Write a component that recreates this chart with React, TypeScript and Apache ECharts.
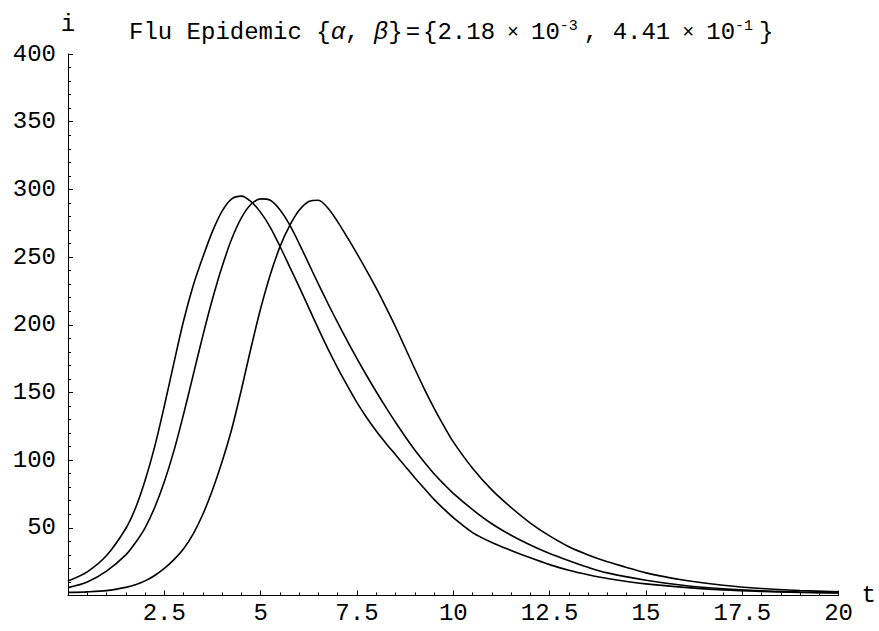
import React, { useEffect, useRef } from "react";
import * as echarts from "echarts";

const tValues = [0, 0.5, 1, 1.5, 1.75, 2, 2.25, 2.5, 2.75, 3, 3.25, 3.5, 3.75, 4, 4.25, 4.5, 4.75, 5, 5.25, 5.5, 5.75, 6, 6.25, 6.5, 6.75, 7, 7.25, 7.5, 7.75, 8, 8.25, 8.5, 8.75, 9, 9.25, 9.5, 9.75, 10, 10.5, 11, 11.5, 12, 12.5, 13, 13.5, 14, 15, 16, 17, 18, 19, 20];

const curveA = [10.7, 17.5, 29.5, 49.5, 64.5, 85, 110, 140, 172, 203, 229, 250, 269, 284, 293, 295, 291, 283, 272, 258, 243, 228, 212.5, 197, 182, 168, 155, 142.5, 131.5, 121.5, 112.5, 104, 95.5, 87, 79, 71, 64, 57.5, 46.5, 39.2, 33.3, 27.8, 22.8, 18.6, 15.3, 12.6, 8.6, 6.0, 4.1, 3.0, 2.3, 1.8];
const curveB = [5.8, 10, 18, 30, 39, 50, 65, 84, 107, 134, 163, 192, 219, 243, 263.5, 279, 289, 293, 292, 285, 274, 260, 245, 230, 215.5, 201.5, 188, 175, 162.5, 150.5, 139, 128, 117.5, 107.5, 98.5, 90, 82.5, 75.5, 63.5, 53, 44.5, 37.3, 31, 25.7, 20.8, 16.7, 11.3, 7.4, 4.9, 3.4, 2.6, 2.0];
const curveC = [2.3, 2.7, 3.6, 6, 8, 10.8, 14.8, 20, 26.5, 34.5, 45.5, 60, 78, 99, 123, 152, 183, 212, 237, 257.5, 273, 284.5, 291, 292, 286, 276, 264.5, 252.5, 240, 227, 213, 198.5, 183, 167.5, 152.5, 138.5, 125.5, 113.5, 94, 78, 65, 53.5, 44, 36, 30, 25, 16.7, 11.3, 7.6, 5.2, 3.7, 2.7];

const xTickInterval = 2.5;
const yTickInterval = 50;

const titleText = "Flu Epidemic {{g|α}, {g|β}}{eq|=}{2.18{x|×}10{sup|-3}, 4.41{x|×}10{sup|-1}}";

function pairs(ys: number[]) {
  return tValues.map((t, k) => [t, ys[k]]);
}

export default function App() {
  const ref = useRef<HTMLDivElement>(null);
  useEffect(() => {
    if (!ref.current) return;
    const chart = echarts.init(ref.current, null, { renderer: "svg" });
    const font = "'Liberation Mono', 'DejaVu Sans Mono', monospace";
    const lineStyle = { color: "#000", width: 1.6 };
    chart.setOption({
      animation: false,
      backgroundColor: "#fff",
      title: {
        text: titleText,
        left: 124,
        top: 14,
        textStyle: {
          fontFamily: font,
          fontSize: 24,
          fontWeight: "normal",
          color: "#000",
          rich: {
            g: { fontFamily: font, fontSize: 24, fontStyle: "italic", color: "#000" },
            eq: { fontFamily: font, fontSize: 24, color: "#000", padding: [0, 3, 0, 3] },
            x: { fontFamily: font, fontSize: 20, color: "#000", padding: [0, 12, 0, 12] },
            sup: { fontFamily: font, fontSize: 15, color: "#000", verticalAlign: "top", padding: [0, 6, 12, 0] },
          },
        },
      },
      grid: { left: 68, right: 37, top: 54, bottom: 35.5, containLabel: false },
      xAxis: {
        type: "value",
        min: 0,
        max: 20,
        interval: xTickInterval,
        name: "t",
        nameLocation: "end",
        nameGap: 23,
        nameTextStyle: { fontFamily: font, fontSize: 24, color: "#000" },
        axisLine: { show: true, onZero: true, lineStyle: { color: "#000", width: 1 } },
        axisTick: { show: true, inside: true, length: 5, lineStyle: { color: "#000" } },
        minorTick: { show: true, splitNumber: 5, length: 3, lineStyle: { color: "#000" } },
        splitLine: { show: false },
        axisLabel: {
          margin: 6,
          fontFamily: font,
          fontSize: 24,
          color: "#000",
          formatter: (v: number) => (v === 0 ? "" : String(v)),
        },
      },
      yAxis: {
        type: "value",
        min: 0,
        max: 400,
        interval: yTickInterval,
        name: "i",
        nameLocation: "end",
        nameGap: 18,
        nameTextStyle: { fontFamily: font, fontSize: 24, color: "#000", align: "center" },
        axisLine: { show: true, onZero: true, lineStyle: { color: "#000", width: 1 } },
        axisTick: { show: true, inside: true, length: 5, lineStyle: { color: "#000" } },
        minorTick: { show: true, splitNumber: 5, length: 3, lineStyle: { color: "#000" } },
        splitLine: { show: false },
        axisLabel: {
          margin: 12,
          fontFamily: font,
          fontSize: 24,
          color: "#000",
          formatter: (v: number) => (v === 0 ? "" : String(v)),
        },
      },
      series: [
        { type: "line", data: pairs(curveA), smooth: 0.3, symbol: "none", lineStyle },
        { type: "line", data: pairs(curveB), smooth: 0.3, symbol: "none", lineStyle },
        { type: "line", data: pairs(curveC), smooth: 0.3, symbol: "none", lineStyle },
      ],
    });
    return () => chart.dispose();
  }, []);
  return (
    <div
      ref={ref}
      style={{ position: "fixed", left: 0, top: 0, width: 879, height: 631, background: "#fff" }}
    />
  );
}
